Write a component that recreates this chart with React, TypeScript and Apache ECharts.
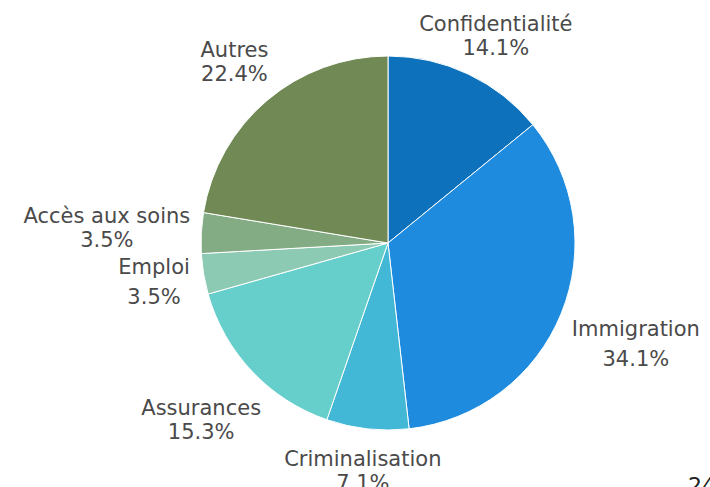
import React, { useEffect, useRef } from "react";
import * as echarts from "echarts";

const categories = [
  "Confidentialité",
  "Immigration",
  "Criminalisation",
  "Assurances",
  "Emploi",
  "Accès aux soins",
  "Autres",
];
const values = [14.1, 34.1, 7.1, 15.3, 3.5, 3.5, 22.4];
const palette = ["#0d71bc", "#1e8bde", "#42b8d6", "#66cfcc", "#8ccab4", "#83ab84", "#718a55"];
const wideLineItems = ["Immigration", "Emploi"];

const CX = 388;
const CY = 243;
const R = 187;
const GAP = 10;

export default function App() {
  const ref = useRef<HTMLDivElement>(null);
  useEffect(() => {
    if (!ref.current) return;
    const chart = echarts.init(ref.current, null, { renderer: "svg" });
    const total = values.reduce((a, b) => a + b, 0);
    const data = categories.map((name, i) => ({
      name,
      value: values[i],
      label: { lineHeight: wideLineItems.includes(name) ? 30 : 24 },
    }));
    chart.setOption({
      animation: false,
      color: palette,
      series: [
        {
          type: "pie",
          center: [CX, CY],
          radius: R,
          startAngle: 90,
          clockwise: true,
          avoidLabelOverlap: false,
          data,
          itemStyle: { borderColor: "#ffffff", borderWidth: 1 },
          label: {
            show: true,
            position: "outside",
            formatter: (p: any) => `${p.name}\n${p.value.toFixed(1)}%`,
            fontFamily: "DejaVu Sans",
            fontSize: 21,
            color: "#4a4a4a",
            lineHeight: 24,
          },
          labelLine: { show: false, length: 0, length2: 0 },
          labelLayout: (params: any) => {
            const i = params.dataIndex;
            let cum = 0;
            for (let k = 0; k < i; k++) cum += values[k];
            cum += values[i] / 2;
            const ang = (cum / total) * Math.PI * 2;
            const ux = Math.sin(ang);
            const uy = -Math.cos(ang);
            const w = params.labelRect.width;
            const h = params.labelRect.height;
            const d = R + GAP + (Math.abs(ux) * w) / 2 + (Math.abs(uy) * h) / 2;
            const x = CX + d * ux;
            let y = CY + d * uy;
            y = Math.max(y, h / 2 + 12);
            return { x, y, align: "center", verticalAlign: "middle" };
          },
        },
      ],
      graphic: [
        {
          type: "text",
          left: 688,
          top: 474,
          style: { text: "24", fontSize: 22, fill: "#222222", fontFamily: "DejaVu Sans" },
        },
      ],
    });
    return () => chart.dispose();
  }, []);
  return (
    <div
      ref={ref}
      style={{ position: "absolute", left: 0, top: 0, width: 710, height: 487 }}
    />
  );
}
